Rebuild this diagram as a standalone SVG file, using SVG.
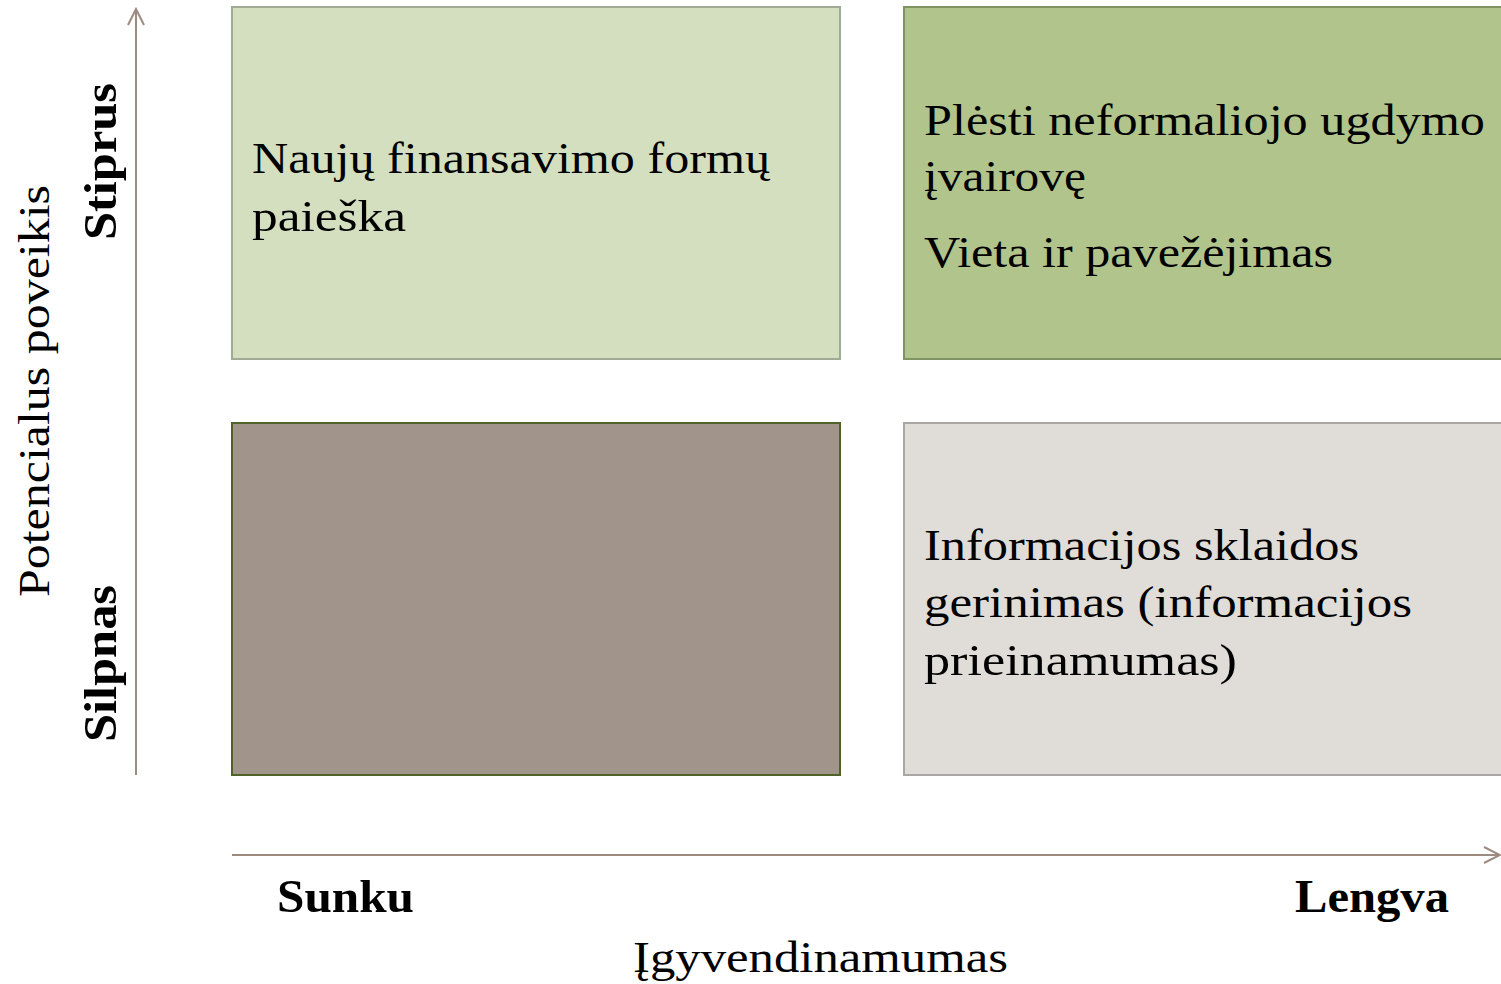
<svg xmlns="http://www.w3.org/2000/svg" width="1501" height="984" viewBox="0 0 1501 984">
<defs>
<style>
.t{font-family:"Liberation Serif","DejaVu Serif",serif;font-size:45px;fill:#000}
.b{font-family:"Liberation Serif","DejaVu Serif",serif;font-size:47px;font-weight:bold;fill:#000}
.ax{stroke:#9e8b80;stroke-width:2;fill:none}
</style>
<marker id="ah" viewBox="0 0 20 20" refX="18" refY="10" markerWidth="20" markerHeight="20" markerUnits="userSpaceOnUse" orient="auto">
<path d="M2,2 L18,10 L2,18" fill="none" stroke="#9e8b80" stroke-width="2"/>
</marker>
</defs>
<rect width="1501" height="984" fill="#fff"/>
<g id="connectors">
<line class="ax" x1="136" y1="775" x2="136" y2="9" marker-end="url(#ah)"/>
<line class="ax" x1="232" y1="855" x2="1500" y2="855" marker-end="url(#ah)"/>
</g>
<g id="q-top-left">
<rect x="232" y="7" width="608" height="352" fill="#d3dfbf" stroke="#a0aa94" stroke-width="2"/>
<text class="t" x="252" y="173" textLength="518" lengthAdjust="spacingAndGlyphs">Naujų finansavimo formų</text>
<text class="t" x="252" y="231" textLength="154" lengthAdjust="spacingAndGlyphs">paieška</text>
</g>
<g id="q-top-right">
<rect x="904" y="7" width="600" height="352" fill="#b1c48c" stroke="#7f9460" stroke-width="2"/>
<text class="t" x="924" y="135" textLength="561" lengthAdjust="spacingAndGlyphs">Plėsti neformaliojo ugdymo</text>
<text class="t" x="924" y="191" textLength="162" lengthAdjust="spacingAndGlyphs">įvairovę</text>
<text class="t" x="924" y="267" textLength="409" lengthAdjust="spacingAndGlyphs">Vieta ir pavežėjimas</text>
</g>
<g id="q-bottom-left">
<rect x="232" y="423" width="608" height="352" fill="#a1958b" stroke="#4f6228" stroke-width="2"/>
</g>
<g id="q-bottom-right">
<rect x="904" y="423" width="600" height="352" fill="#e0dcd8" stroke="#a9a6a3" stroke-width="2"/>
<text class="t" x="924" y="560" textLength="435" lengthAdjust="spacingAndGlyphs">Informacijos sklaidos</text>
<text class="t" x="924" y="617" textLength="488" lengthAdjust="spacingAndGlyphs">gerinimas (informacijos</text>
<text class="t" x="924" y="675" textLength="313" lengthAdjust="spacingAndGlyphs">prieinamumas)</text>
</g>
<g id="axis-labels">
<text class="b" x="277" y="912" textLength="137" lengthAdjust="spacingAndGlyphs">Sunku</text>
<text class="b" x="1295" y="912" textLength="154" lengthAdjust="spacingAndGlyphs">Lengva</text>
<text class="t" x="633" y="972" textLength="375" lengthAdjust="spacingAndGlyphs">Įgyvendinamumas</text>
<text class="t" transform="translate(49,597) rotate(-90)" textLength="412" lengthAdjust="spacingAndGlyphs">Potencialus poveikis</text>
<text class="b" transform="translate(116,240) rotate(-90)" textLength="157" lengthAdjust="spacingAndGlyphs">Stiprus</text>
<text class="b" transform="translate(116,742) rotate(-90)" textLength="157" lengthAdjust="spacingAndGlyphs">Silpnas</text>
</g>
</svg>
